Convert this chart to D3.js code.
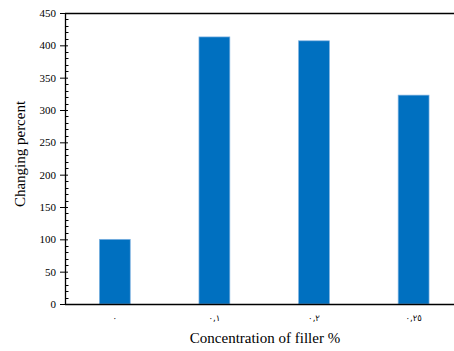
<!DOCTYPE html>
<html><head><meta charset="utf-8">
<script src="https://cdn.jsdelivr.net/npm/d3@7"></script>
<style>body{margin:0;background:#fff}svg{display:block}</style>
</head><body>
<svg id="c" width="454" height="351"></svg>
<script>
const categories = ["٠", "٠,١", "٠,٢", "٠,٢٥"];
const values = [100, 413, 407, 323];
const yTicks = [0, 50, 100, 150, 200, 250, 300, 350, 400, 450];
const xTitle = "Concentration of filler %";
const yTitle = "Changing percent";

(function () {
const serif = "'Liberation Serif', 'Times New Roman', serif";
const svg = d3.select("#c");
const mL = 65, mT = 13, mB = 304, mR = 454;
const x = d3.scaleBand().domain(categories).range([mL, 463.4]).paddingInner(0.69).paddingOuter(0.345);
const y = d3.scaleLinear().domain([0, 450]).range([mB, mT]);

svg.selectAll("rect.bar").data(values).join("rect")
  .attr("class", "bar")
  .attr("x", (d, i) => x(categories[i]))
  .attr("width", x.bandwidth())
  .attr("y", d => y(d))
  .attr("height", d => mB - y(d))
  .attr("fill", "#0070C0")
  .attr("stroke", "#7fb2e0").attr("stroke-width", 0.7);

// minor ticks (inside)
const minor = d3.range(0, 451, 10).filter(v => v % 50 !== 0);
svg.append("g").selectAll("line").data(minor).join("line")
  .attr("x1", mL).attr("x2", mL + 3.5)
  .attr("y1", d => Math.round(y(d)) + 0.5).attr("y2", d => Math.round(y(d)) + 0.5)
  .attr("stroke", "#000").attr("stroke-width", 1);

// y axis
const ya = svg.append("g").attr("transform", `translate(${mL},0)`)
  .call(d3.axisLeft(y).tickValues(yTicks).tickSize(5).tickPadding(4));
ya.select(".domain").remove();
ya.selectAll(".tick line").attr("x2", -5).attr("x1", 3).attr("stroke", "#000");
ya.selectAll("text").style("font-family", serif).style("font-size", "11px").attr("fill", "#000");

svg.append("line").attr("x1", mL + 0.5).attr("x2", mL + 0.5).attr("y1", mT).attr("y2", mB + 0.5)
  .attr("stroke", "#000").attr("stroke-width", 1.3);
svg.append("line").attr("x1", mL).attr("x2", mR).attr("y1", mT + 0.5).attr("y2", mT + 0.5)
  .attr("stroke", "#000").attr("stroke-width", 1.3);
svg.append("line").attr("x1", mL).attr("x2", mR).attr("y1", mB + 0.5).attr("y2", mB + 0.5)
  .attr("stroke", "#000").attr("stroke-width", 1.5);

// x tick labels
svg.append("g").selectAll("text").data(categories).join("text")
  .attr("x", d => x(d) + x.bandwidth() / 2).attr("y", 321)
  .attr("text-anchor", "middle").attr("direction", "ltr")
  .style("font-family", "'DejaVu Sans'").style("font-size", "8.5px").style("letter-spacing", "1.5px")
  .attr("fill", "#000")
  .text(d => d);

svg.append("text").attr("x", 265).attr("y", 343).attr("text-anchor", "middle")
  .style("font-family", serif).style("font-size", "15px").attr("fill", "#000").text(xTitle);
svg.append("text").attr("transform", "translate(25,154) rotate(-90)").attr("text-anchor", "middle")
  .style("font-family", serif).style("font-size", "15px").attr("fill", "#000").text(yTitle);
})();
</script>
</body></html>
